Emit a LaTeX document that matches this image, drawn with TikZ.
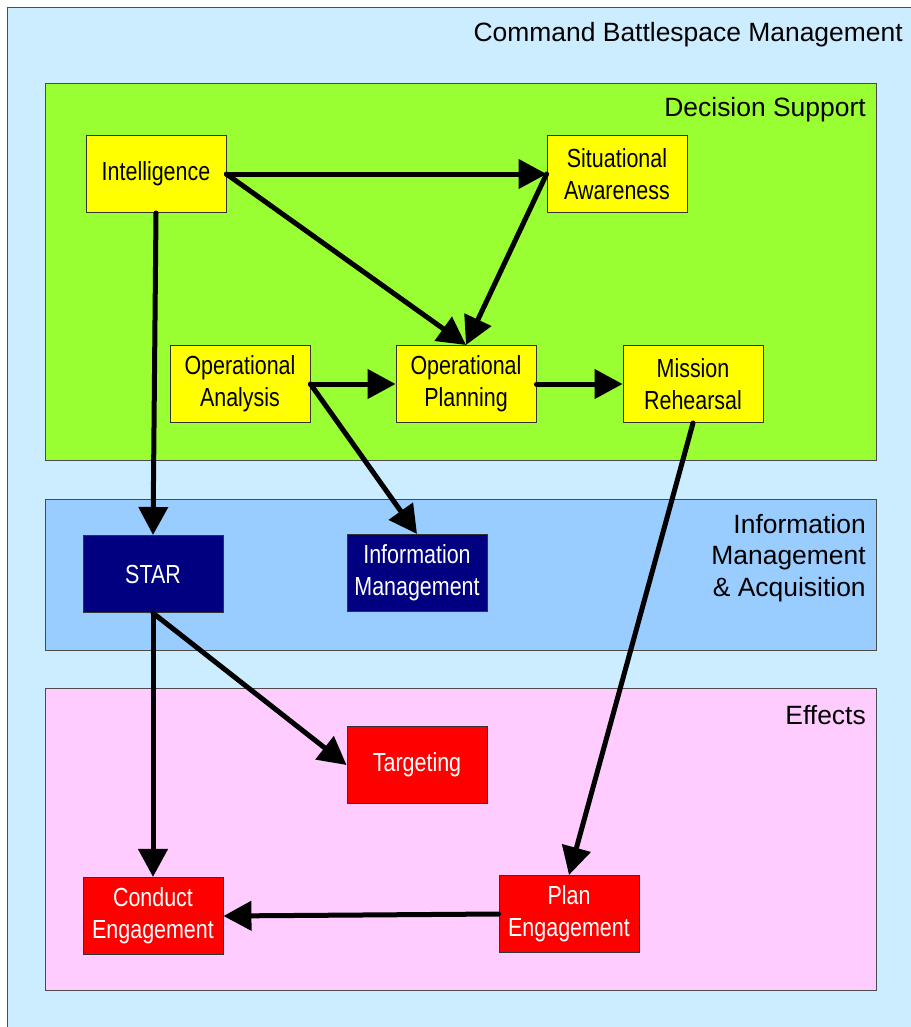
\documentclass[tikz,border=0pt]{standalone}
\usepackage{fontspec}
\setmainfont{Liberation Sans}
\newfontfamily\boxfont[FakeStretch=0.82]{Liberation Sans}
\usetikzlibrary{arrows.meta}
\definecolor{cbmback}{HTML}{CCECFF}
\definecolor{dsgreen}{HTML}{99FF33}
\definecolor{imblue}{HTML}{99CCFF}
\definecolor{efpink}{HTML}{FFCCFF}
\definecolor{boxyellow}{HTML}{FFFF00}
\definecolor{boxnavy}{HTML}{000080}
\definecolor{boxred}{HTML}{FF0000}
\begin{document}
\begin{tikzpicture}[x=0.025cm,y=-0.025cm,
        panel/.style={draw=black!70,line width=0.6pt},
        paneltitle/.style={anchor=east,align=right,inner sep=0pt,font=\fontsize{18.8}{22.4}\selectfont},
        box/.style={draw=black!80,line width=0.6pt,minimum width=3.5cm,minimum height=1.93cm,align=center,inner sep=0pt,font=\boxfont\fontsize{18.6}{22.8}\selectfont},
        yellowbox/.style={box,fill=boxyellow},
        navybox/.style={box,fill=boxnavy,text=white},
        redbox/.style={box,fill=boxred,text=white},
        link/.style={line width=0.125cm,line cap=round,-{Triangle[length=0.7cm,width=0.72cm]}}]
    \useasboundingbox (0,0) rectangle (911,1027);
    \clip (0,0) rectangle (911,1027);

    \draw[panel,fill=cbmback] (7,7) rectangle (930,1040);
    \draw[panel,fill=dsgreen] (45,83) rectangle (876,460);
    \draw[panel,fill=imblue] (45,499) rectangle (876,650);
    \draw[panel,fill=efpink] (45,688) rectangle (876,990);

    \node[paneltitle] (cbmtitle) at (903,35) {Command Battlespace Management};
    \node[paneltitle] (dstitle) at (866,110) {Decision Support};
    \node[paneltitle] (imtitle) at (866,558) {Information\\Management\\\& Acquisition};
    \node[paneltitle] (eftitle) at (866,715) {Effects};

    \node[yellowbox] (intel) at (156,174) {Intelligence};
    \node[yellowbox] (sitaware) at (617,174) {Situational\\Awareness};
    \node[yellowbox] (opanalysis) at (240,384) {Operational\\Analysis};
    \node[yellowbox] (opplan) at (466,384) {Operational\\Planning};
    \node[yellowbox] (mission) at (693,384) {Mission\\Rehearsal};

    \node[navybox] (star) at (153,574) {STAR};
    \node[navybox] (infomgmt) at (417,573) {Information\\Management};

    \node[redbox] (targeting) at (417,765) {Targeting};
    \node[redbox] (conduct) at (153,916) {Conduct\\Engagement};
    \node[redbox] (planeng) at (569,914) {Plan\\Engagement};

    \draw[link] (intel.east) -- (sitaware.west);
    \draw[link] (intel.east) -- (opplan.north);
    \draw[link] (sitaware.west) -- (opplan.north);
    \draw[link] (opanalysis.east) -- (opplan.west);
    \draw[link] (opanalysis.east) -- (infomgmt.north);
    \draw[link] (opplan.east) -- (mission.west);
    \draw[link] (intel.south) -- (star.north);
    \draw[link] (mission.south) -- (planeng.north);
    \draw[link] (star.south) -- (conduct.north);
    \draw[link] (star.south) -- (targeting.west);
    \draw[link] (planeng.west) -- (conduct.east);
\end{tikzpicture}
\end{document}
